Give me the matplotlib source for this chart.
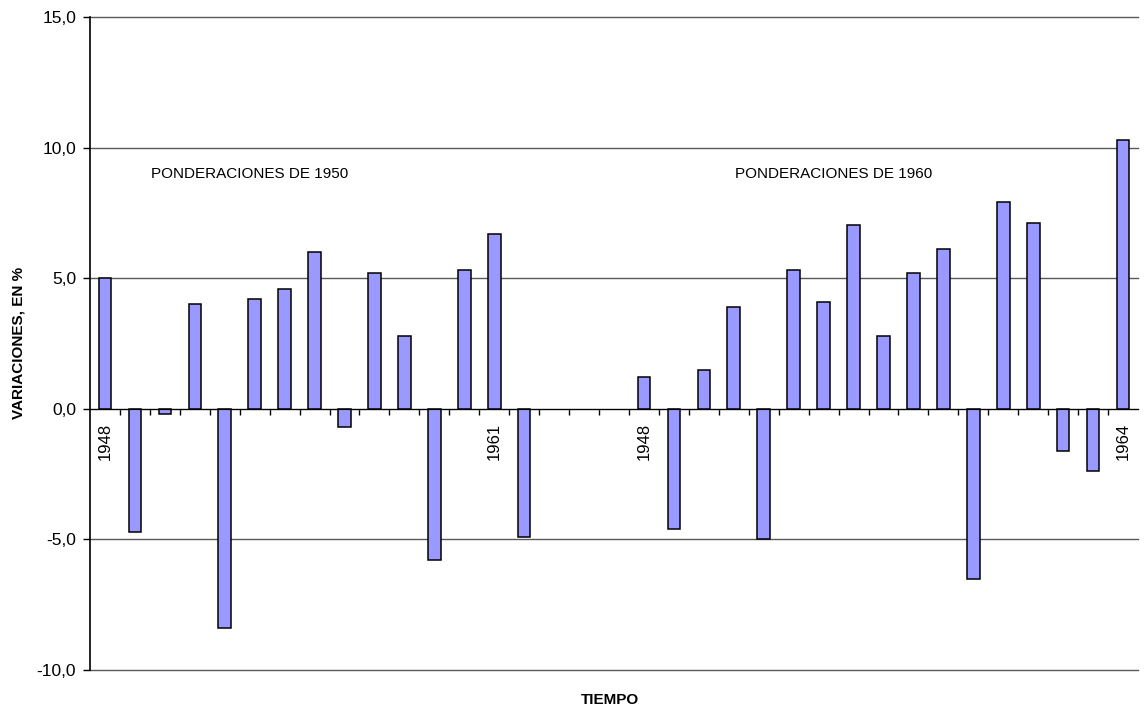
import numpy as np
import matplotlib
matplotlib.use("Agg")
import matplotlib.pyplot as plt

plt.rcParams['font.family'] = ['Liberation Sans', 'DejaVu Sans']

# variaciones anuales, en %
años_1950 = list(range(1948, 1963))
vals_1950 = [5.0, -4.7, -0.2, 4.0, -8.4, 4.2, 4.6, 6.0, -0.7, 5.2, 2.8, -5.8, 5.3, 6.7, -4.9]
años_1960 = list(range(1948, 1965))
vals_1960 = [1.2, -4.6, 1.5, 3.9, -5.0, 5.3, 4.1, 7.05, 2.8, 5.2, 6.1, -6.5, 7.9, 7.1, -1.6, -2.4, 10.3]
hueco = 3  # categorias vacias entre las dos series
años_rotulados = {"1950": [1948, 1961], "1960": [1948, 1964]}
textos = ["PONDERACIONES DE 1950", "PONDERACIONES DE 1960"]

x1 = np.arange(len(vals_1950))
x2 = np.arange(len(vals_1960)) + len(vals_1950) + hueco
n_total = len(vals_1950) + hueco + len(vals_1960)

fig = plt.figure(figsize=(11.45, 7.08), dpi=100)
ax = fig.add_axes([0.0786, 0.0537, 0.9153, 0.9223])

ax.bar(x1, vals_1950, width=0.42, color='#9999FF', edgecolor='black', linewidth=1.1, zorder=3)
ax.bar(x2, vals_1960, width=0.42, color='#9999FF', edgecolor='black', linewidth=1.1, zorder=3)

ax.set_xlim(-0.5, n_total - 0.5)
ax.set_ylim(-10, 15)
ax.set_yticks([-10, -5, 0, 5, 10, 15])
ax.set_yticklabels([f'{v:.1f}'.replace('.', ',') for v in [-10, -5, 0, 5, 10, 15]], fontsize=12.5)
ax.yaxis.grid(True, color='#5a5a5a', linewidth=1.0, zorder=0)
for g in ax.get_ygridlines():
    g.set_clip_on(False)
ax.tick_params(axis='y', length=5, width=1, direction='out', pad=5)

# eje de categorias en cero
ax.spines['bottom'].set_position(('data', 0))
ax.spines['bottom'].set_zorder(4)
ax.spines['top'].set_visible(False)
ax.spines['right'].set_visible(False)
ax.spines['left'].set_linewidth(1.2)
ax.set_xticks(np.arange(0.5, n_total - 1, 1.0))
ax.set_xticklabels([])
ax.tick_params(axis='x', length=4, width=1, direction='out')

for xs, años, clave in [(x1, años_1950, "1950"), (x2, años_1960, "1960")]:
    for xi, a in zip(xs, años):
        if a in años_rotulados[clave]:
            ax.annotate(str(a), (xi, 0), xytext=(0, -10), textcoords='offset points',
                        rotation=90, ha='center', va='top', fontsize=12, zorder=5)

ax.text(1.53, 9.0, textos[0], fontsize=11, va='center', ha='left')
ax.text(21.04, 9.0, textos[1], fontsize=11, va='center', ha='left')

fig.text(0.016, 0.515, 'VARIACIONES, EN %', rotation=90, fontsize=11, fontweight='bold',
         ha='center', va='center')
fig.text(0.533, 0.011, 'TIEMPO', fontsize=11, fontweight='bold', ha='center', va='center')

fig.savefig('out.png', dpi=100)
